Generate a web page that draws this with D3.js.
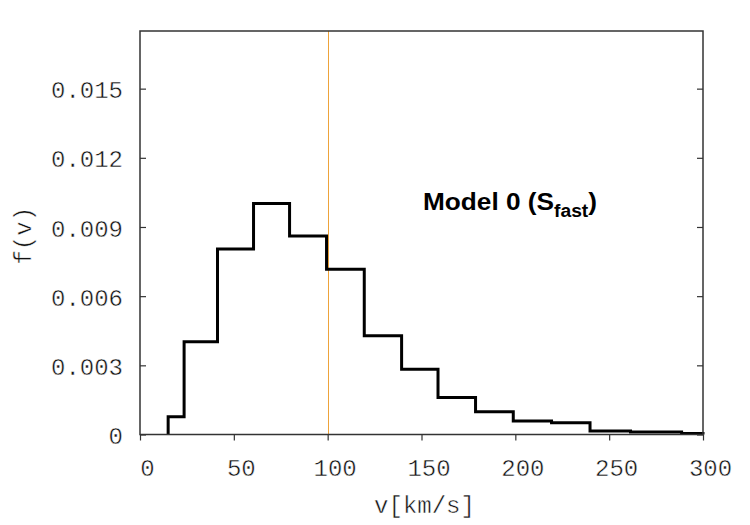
<!DOCTYPE html>
<html>
<head>
<meta charset="utf-8">
<script src="https://cdn.jsdelivr.net/npm/d3@7"></script>
<style>
  html, body { margin: 0; padding: 0; background: #fff; }
  svg { display: block; }
  .mono { font-family: 'Liberation Mono', 'DejaVu Sans Mono', monospace; font-size: 24px; fill: #111; stroke: #fff; stroke-width: 0.45px; }
</style>
</head>
<body>
<svg id="chart" width="750" height="525"></svg>
<script>
// ---- data ----
const binEdges = [15, 23.5, 41.3, 60.5, 79.7, 99.4, 119.5, 139.4, 158.8, 178.8, 198.9, 219.3, 239.8, 261.4, 288.6, 300];
const density  = [0.00077, 0.00402, 0.00804, 0.01002, 0.00861, 0.00717, 0.00428, 0.00283, 0.00161, 0.00099, 0.00059, 0.00051, 0.00015, 0.00011, 0.00004];
const xTicks = [0, 50, 100, 150, 200, 250, 300];
const yTicks = [0, 0.003, 0.006, 0.009, 0.012, 0.015];
const yTickLabels = ["0", "0.003", "0.006", "0.009", "0.012", "0.015"];
const refLineX = 100;
const xDomain = [0, 300];
const yDomain = [0, 0.0175];
const xLabel = "v[km/s]";
const yLabel = "f(v)";

(function () {
// ---- layout ----
const mLeft = 140, mRight = 703, mTop = 31, mBottom = 434.5;
const svg = d3.select("#chart");
const x = d3.scaleLinear().domain(xDomain).range([mLeft, mRight]);
const y = d3.scaleLinear().domain(yDomain).range([mBottom, mTop]);
const axisColor = "#333";

// reference vertical line
const rx = Math.round(x(refLineX)) + 0.5;
svg.append("line")
  .attr("x1", rx).attr("x2", rx)
  .attr("y1", y(yDomain[0])).attr("y2", y(yDomain[1]))
  .attr("stroke", "#eea33a").attr("stroke-width", 1);

// histogram steps
const pts = [[binEdges[0], 0]];
density.forEach((d, i) => pts.push([binEdges[i], d]));
pts.push([binEdges[binEdges.length - 1], density[density.length - 1]]);
pts.push([binEdges[binEdges.length - 1], 0]);
const line = d3.line().x(d => x(d[0])).y(d => y(d[1])).curve(d3.curveStepAfter);
svg.append("path")
  .attr("d", line(pts))
  .attr("fill", "none")
  .attr("stroke", "#000")
  .attr("stroke-width", 3)
  .attr("stroke-linejoin", "miter");

// frame
svg.append("rect")
  .attr("x", mLeft).attr("y", mTop)
  .attr("width", mRight - mLeft).attr("height", mBottom - mTop)
  .attr("fill", "none").attr("stroke", axisColor).attr("stroke-width", 1.5);

// x axis (ticks outward, below)
const xAxis = svg.append("g").attr("transform", `translate(0,${mBottom})`)
  .call(d3.axisBottom(x).tickValues(xTicks).tickSize(6).tickPadding(18).tickFormat(d3.format("d")));
xAxis.attr("font-family", null).attr("font-size", null);
xAxis.select(".domain").remove();
xAxis.selectAll(".tick line").attr("stroke", axisColor).attr("stroke-width", 1.2);
xAxis.selectAll(".tick text").attr("class", "mono").attr("fill", null).attr("dx", 7);

// y axis (ticks inward, left and right)
const yAxisL = svg.append("g").attr("transform", `translate(${mLeft},0)`)
  .call(d3.axisLeft(y).tickValues(yTicks).tickSize(-6).tickPadding(0)
    .tickFormat((d, i) => yTickLabels[i]));
yAxisL.attr("font-family", null).attr("font-size", null);
yAxisL.select(".domain").remove();
yAxisL.selectAll(".tick line").attr("stroke", axisColor).attr("stroke-width", 1.2);
yAxisL.selectAll(".tick text").attr("class", "mono").attr("fill", null)
  .attr("x", -17).attr("dy", "0.38em");

const yAxisR = svg.append("g").attr("transform", `translate(${mRight},0)`)
  .call(d3.axisRight(y).tickValues(yTicks).tickSize(-6).tickFormat(""));
yAxisR.select(".domain").remove();
yAxisR.selectAll(".tick line").attr("stroke", axisColor).attr("stroke-width", 1.2);

// axis labels
svg.append("text").attr("class", "mono")
  .attr("x", (mLeft + mRight) / 2 + 3).attr("y", 513)
  .attr("text-anchor", "middle")
  .text(xLabel);
svg.append("text").attr("class", "mono")
  .attr("transform", `translate(31,${(mTop + mBottom) / 2 + 3}) rotate(-90)`)
  .attr("text-anchor", "middle")
  .text(yLabel);

// model annotation
const ann = svg.append("text")
  .attr("transform", "translate(423,210) scale(1.07,1)")
  .attr("font-family", "'Liberation Sans', Arial, sans-serif")
  .attr("font-weight", "bold").attr("font-size", 24.5).attr("fill", "#000");
ann.append("tspan").text("Model 0 (S");
ann.append("tspan").attr("font-size", 18).attr("dy", 7).text("fast");
ann.append("tspan").attr("dy", -7).text(")");
})();
</script>
</body>
</html>
